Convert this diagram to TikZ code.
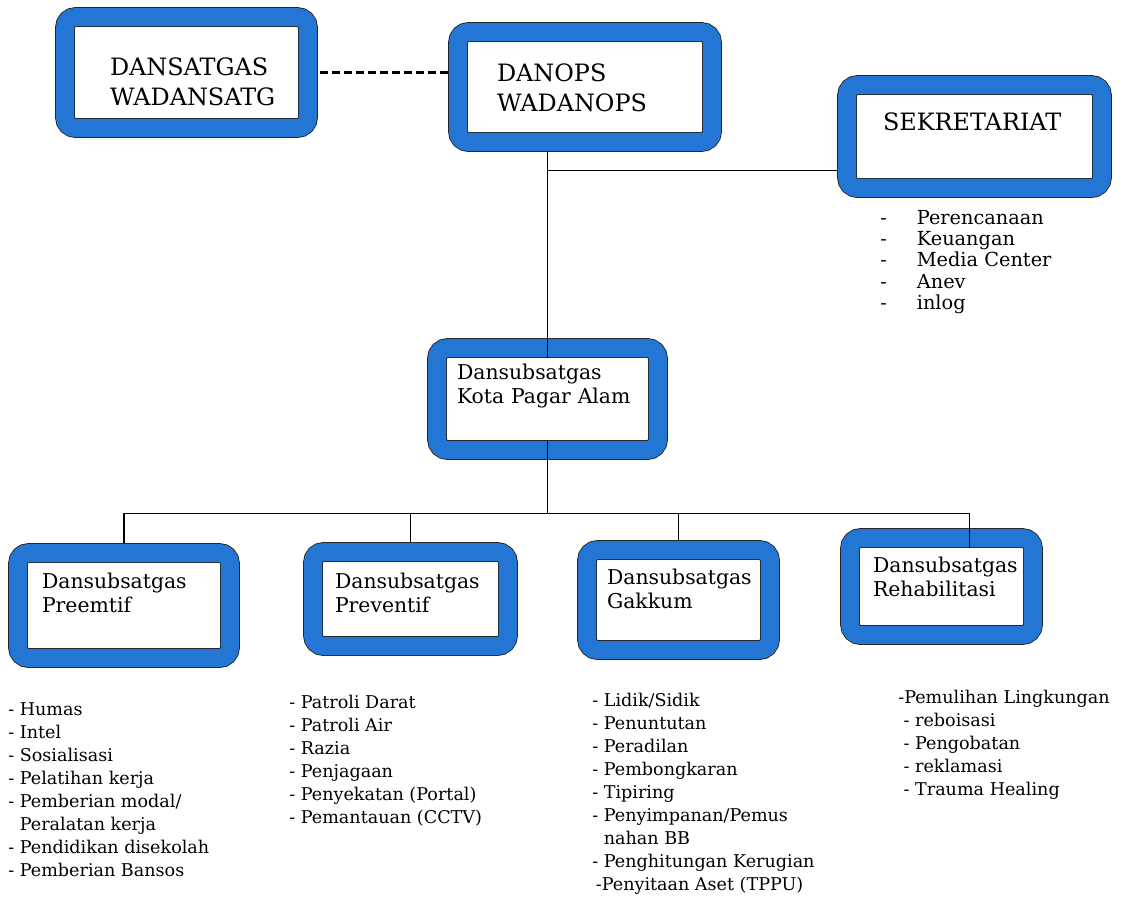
\documentclass[tikz,border=0pt]{standalone}
\usepackage{fontspec}
\setmainfont{DejaVu Serif}
\usepackage{tikz}
\usetikzlibrary{backgrounds}
\definecolor{frameblue}{RGB}{35,118,212}
\begin{document}
\begin{tikzpicture}[
  x=0.02cm, y=-0.02cm,
  box/.style={draw=black!85, line width=0.5pt, double=frameblue,
              double distance=0.36cm, rounded corners=6pt, fill=white,
              inner ysep=0pt, align=left},
  capsfont/.style={font=\fontsize{13.6}{17.6}\selectfont},
  subfont/.style={font=\fontsize{11.6}{14.2}\selectfont},
  list/.style={anchor=north west, inner sep=0pt, align=left,
               font=\fontsize{10}{13.1}\selectfont},
  link/.style={line width=0.6pt}
]
  \useasboundingbox (0,0) rectangle (1127,897);

  \node[box, capsfont, inner xsep=0.9cm, text width=3.06cm,
        text height=1.16cm, text depth=1.06cm] (dansat) at (186.5,72.5)
        {DANSATGAS\\WADANSATG};
  \node[box, capsfont, inner xsep=0.78cm, text width=3.52cm,
        text height=0.98cm, text depth=1.22cm] (danops) at (585,87)
        {DANOPS\\WADANOPS};
  \node[box, capsfont, inner xsep=0.72cm, text width=3.66cm,
        text height=0.9cm, text depth=1.16cm] (sek) at (974.5,136.5)
        {SEKRETARIAT};
  \node[box, subfont, inner xsep=0.4cm, text width=3.62cm,
        text height=0.62cm, text depth=1.42cm] (kota) at (547.5,399)
        {Dansubsatgas\\Kota Pagar Alam};

  \node[box, subfont, inner xsep=0.48cm, text width=3.28cm,
        text height=0.7cm, text depth=1.4cm] (preemtif) at (124,605.5)
        {Dansubsatgas\\Preemtif};
  \node[box, subfont, inner xsep=0.44cm, text width=3.02cm,
        text height=0.72cm, text depth=1.16cm] (preventif) at (410.5,599)
        {Dansubsatgas\\Preventif};
  \node[box, subfont, inner xsep=0.4cm, text width=2.86cm,
        text height=0.68cm, text depth=1.32cm] (gakkum) at (678.5,600)
        {Dansubsatgas\\Gakkum};
  \node[box, subfont, inner xsep=0.46cm, text width=2.74cm,
        text height=0.68cm, text depth=1.26cm] (rehab) at (941.5,586.5)
        {Dansubsatgas\\Rehabilitasi};

  \node[list, font=\fontsize{11}{12.1}\selectfont] (seklist) at (880,209)
    {\begin{tabular}{@{}l@{\hspace{0.6cm}}l@{}}
      - & Perencanaan\\ - & Keuangan\\ - & Media Center\\ - & Anev\\ - & inlog
     \end{tabular}};
  \node[list] (preemtiflist) at (8,702)
    {- Humas\\- Intel\\- Sosialisasi\\- Pelatihan kerja\\- Pemberian modal/\\
     \phantom{- }Peralatan kerja\\- Pendidikan disekolah\\- Pemberian Bansos};
  \node[list] (preventiflist) at (289,695)
    {- Patroli Darat\\- Patroli Air\\- Razia\\- Penjagaan\\
     - Penyekatan (Portal)\\- Pemantauan (CCTV)};
  \node[list] (gakkumlist) at (592,693)
    {- Lidik/Sidik\\- Penuntutan\\- Peradilan\\- Pembongkaran\\- Tipiring\\
     - Penyimpanan/Pemus\\\phantom{- }nahan BB\\- Penghitungan Kerugian\\
     \hspace*{2pt}-Penyitaan Aset (TPPU)};
  \node[list] (rehablist) at (898,690)
    {-Pemulihan Lingkungan\\\hspace*{3pt}- reboisasi\\\hspace*{3pt}- Pengobatan\\
     \hspace*{3pt}- reklamasi\\\hspace*{3pt}- Trauma Healing};

  \begin{scope}[on background layer]
    \draw[link, line width=1.6pt, dash pattern=on 4.5pt off 2.3pt]
      (dansat.east) -- (dansat.east -| danops.west);
    \draw[link] (kota.north) -- (kota.north |- danops.south);
    \draw[link] (kota.north |- sek.195) -- (sek.195);
    \draw[link] (kota.south) -- ++(0,63) coordinate (bus);
    \draw[link] (preemtif.north) |- (bus) -| (rehab.60);
    \draw[link] (preventif.north) -- (preventif.north |- bus);
    \draw[link] (gakkum.north) -- (gakkum.north |- bus);
  \end{scope}
  \draw[link] ([yshift=6pt]kota.north) -- ([yshift=-6pt]kota.north);
  \draw[link] ([yshift=6pt]kota.south) -- ([yshift=-6pt]kota.south);
  \draw[link] ([yshift=6pt]rehab.60) -- ([yshift=-6pt]rehab.60);
\end{tikzpicture}
\end{document}
